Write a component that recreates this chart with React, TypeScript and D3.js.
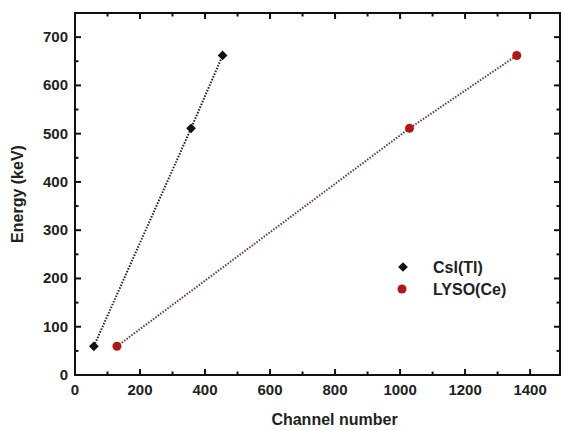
import React, { useRef, useEffect } from 'react';
import * as d3 from 'd3';

const energies = [59.5, 511, 662];
const csiChannels = [58, 357, 454];
const lysoChannels = [129, 1029, 1359];
const seriesNames = ['CsI(Tl)', 'LYSO(Ce)'];
const xTicks = [0, 200, 400, 600, 800, 1000, 1200, 1400];
const yTicks = [0, 100, 200, 300, 400, 500, 600, 700];

function App() {
  const svgRef = useRef<SVGSVGElement>(null);

  useEffect(() => {
    const svg = d3.select(svgRef.current);
    svg.selectAll('*').remove();

    const width = 563;
    const height = 431;
    const margin = { top: 13, right: 3, bottom: 56, left: 75 };
    const font = '"Liberation Sans", Arial, sans-serif';

    const x = d3.scaleLinear()
      .domain([0, 1492])
      .range([margin.left, width - margin.right]);

    const y = d3.scaleLinear()
      .domain([0, 750])
      .range([height - margin.bottom, margin.top]);

    const xMinor = d3.range(100, 1500, 200);
    const yMinor = d3.range(50, 750, 100);

    // ticks inward on all four sides
    const g = svg.append('g').attr('stroke', '#111').attr('stroke-width', 2);
    const x0 = margin.left, x1 = width - margin.right;
    const y0 = height - margin.bottom, y1 = margin.top;

    xTicks.forEach(t => {
      g.append('line').attr('x1', x(t)).attr('x2', x(t)).attr('y1', y0).attr('y2', y0 - 6);
      g.append('line').attr('x1', x(t)).attr('x2', x(t)).attr('y1', y1).attr('y2', y1 + 6);
    });
    xMinor.forEach(t => {
      g.append('line').attr('x1', x(t)).attr('x2', x(t)).attr('y1', y0).attr('y2', y0 - 3.5);
      g.append('line').attr('x1', x(t)).attr('x2', x(t)).attr('y1', y1).attr('y2', y1 + 3.5);
    });
    yTicks.forEach(t => {
      g.append('line').attr('y1', y(t)).attr('y2', y(t)).attr('x1', x0).attr('x2', x0 + 6);
      g.append('line').attr('y1', y(t)).attr('y2', y(t)).attr('x1', x1).attr('x2', x1 - 6);
    });
    yMinor.forEach(t => {
      g.append('line').attr('y1', y(t)).attr('y2', y(t)).attr('x1', x0).attr('x2', x0 + 3.5);
      g.append('line').attr('y1', y(t)).attr('y2', y(t)).attr('x1', x1).attr('x2', x1 - 3.5);
    });

    g.append('rect')
      .attr('x', x0).attr('y', y1)
      .attr('width', x1 - x0).attr('height', y0 - y1)
      .attr('fill', 'none');

    svg.append('g')
      .selectAll('text')
      .data(xTicks)
      .join('text')
      .attr('x', d => x(d))
      .attr('y', y0 + 20)
      .attr('text-anchor', 'middle')
      .attr('font-family', font)
      .attr('font-weight', 'bold')
      .attr('font-size', '15px')
      .attr('fill', '#222')
      .text(d => d);

    svg.append('g')
      .selectAll('text')
      .data(yTicks)
      .join('text')
      .attr('x', x0 - 7)
      .attr('y', d => y(d) + 5)
      .attr('text-anchor', 'end')
      .attr('font-family', font)
      .attr('font-weight', 'bold')
      .attr('font-size', '15px')
      .attr('fill', '#222')
      .text(d => d);

    svg.append('text')
      .attr('x', (x0 + x1) / 2 + 17)
      .attr('y', 425)
      .attr('text-anchor', 'middle')
      .attr('font-family', font)
      .attr('font-weight', 'bold')
      .attr('font-size', '16px')
      .attr('fill', '#222')
      .text('Channel number');

    svg.append('text')
      .attr('x', -(y0 + y1) / 2)
      .attr('y', 23)
      .attr('text-anchor', 'middle')
      .attr('transform', 'rotate(-90)')
      .attr('font-family', font)
      .attr('font-weight', 'bold')
      .attr('font-size', '16px')
      .attr('fill', '#222')
      .text('Energy (keV)');

    const line = d3.line<[number, number]>()
      .x(d => x(d[0]))
      .y(d => y(d[1]));

    const csi = csiChannels.map((c, i) => [c, energies[i]] as [number, number]);
    const lyso = lysoChannels.map((c, i) => [c, energies[i]] as [number, number]);

    svg.append('path')
      .datum(csi)
      .attr('d', line)
      .attr('fill', 'none')
      .attr('stroke', '#222')
      .attr('stroke-width', 2)
      .attr('stroke-dasharray', '1.5,1.5');

    svg.append('path')
      .datum(lyso)
      .attr('d', line)
      .attr('fill', 'none')
      .attr('stroke', '#6a3a3a')
      .attr('stroke-width', 2)
      .attr('stroke-dasharray', '1.5,1.5');

    const diamond = d3.symbol().type(d3.symbolDiamond2).size(60);

    svg.append('g')
      .selectAll('path')
      .data(csi)
      .join('path')
      .attr('d', diamond)
      .attr('transform', d => `translate(${x(d[0])},${y(d[1])})`)
      .attr('fill', '#111');

    svg.append('g')
      .selectAll('circle')
      .data(lyso)
      .join('circle')
      .attr('cx', d => x(d[0]))
      .attr('cy', d => y(d[1]))
      .attr('r', 4.5)
      .attr('fill', '#b01818');

    // legend
    const legend = svg.append('g');
    legend.append('path')
      .attr('d', diamond)
      .attr('transform', 'translate(403,267)')
      .attr('fill', '#111');
    legend.append('circle')
      .attr('cx', 402).attr('cy', 289).attr('r', 4.5)
      .attr('fill', '#b01818');
    seriesNames.forEach((n, i) => {
      legend.append('text')
        .attr('x', 433)
        .attr('y', 273 + i * 22)
        .attr('font-family', font)
        .attr('font-weight', 'bold')
        .attr('font-size', '16px')
        .attr('fill', '#222')
        .text(n);
    });
  }, []);

  return (
    <svg ref={svgRef} width={563} height={431}
      style={{ position: 'absolute', left: 0, top: 0, background: '#fff' }} />
  );
}

export default App;
